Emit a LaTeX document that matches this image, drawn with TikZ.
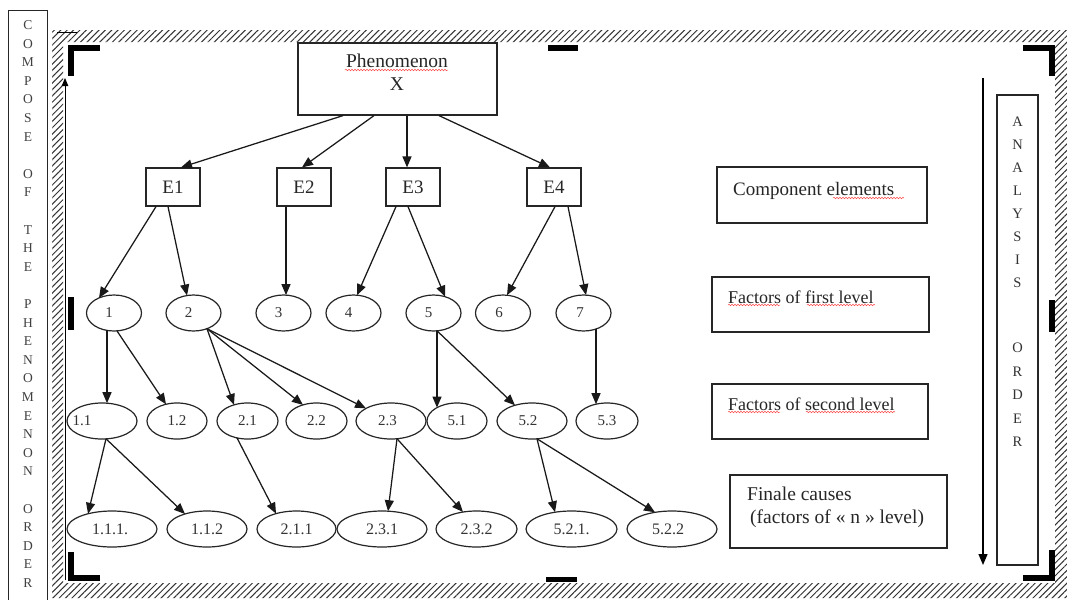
\documentclass[tikz,border=0pt]{standalone}
\usepackage{fontspec}
\setmainfont{Liberation Serif}
\usetikzlibrary{arrows.meta,patterns.meta,shapes.geometric,decorations.pathmorphing}
\newcommand\tofs[2]{\makebox[0pt]{#2\hspace*{#1}}}
\begin{document}
\begin{tikzpicture}[x=1pt,y=-1pt,
  ln/.style={draw=black!85, line width=1.2pt},
  ebox/.style={ln, rectangle, minimum width=54pt, minimum height=38pt, inner sep=0pt, font=\fontsize{19}{22}\selectfont, text=black!85},
  ell/.style={ln, ellipse, minimum height=36pt, inner sep=0pt, font=\fontsize{15}{18}\selectfont, text=black!80},
  ellc/.style={ell, font=\fontsize{16}{18}\selectfont},
  arr/.style={draw=black!90, line width=1.25pt, -{Triangle[length=11pt,width=9pt]}},
  lbox/.style={ln, rectangle, inner sep=0pt},
  lbl/.style={inner sep=0pt, anchor=west, text=black!85},
  vlet/.style={inner sep=0pt, font=\fontsize{13.5}{14}\selectfont, text=black!75},
  rlet/.style={inner sep=0pt, font=\fontsize{14.5}{15}\selectfont, text=black!80},
  cmark/.style={fill=black},
  squig/.style={draw=red!70, line width=0.5pt, decorate, decoration={snake, amplitude=0.8pt, segment length=3pt}}
]
\fill[white] (0,0) rectangle (1067,600);
\useasboundingbox (0,0) rectangle (1067,600);

% hatched frame
\fill[pattern={Lines[angle=45,distance=4.5pt,line width=1pt]}, pattern color=black!80, even odd rule]
  (52,30) rectangle (1067,598) (63,42) rectangle (1055,583);

% black corner and middle marks
\fill[cmark] (68,45) rectangle (100,51); \fill[cmark] (68,45) rectangle (74,76);
\fill[cmark] (1023,45) rectangle (1055,51); \fill[cmark] (1049,45) rectangle (1055,76);
\fill[cmark] (68,575) rectangle (100,581); \fill[cmark] (68,552) rectangle (74,581);
\fill[cmark] (1023,575) rectangle (1055,581); \fill[cmark] (1049,550) rectangle (1055,581);
\fill[cmark] (548,45) rectangle (578,51); \fill[cmark] (546,577) rectangle (577,582);
\fill[cmark] (68,297) rectangle (74,330); \fill[cmark] (1049,300) rectangle (1055,332);

% left side box and text
\draw[line width=1pt, draw=black!85] (8,600) -- (8,10) -- (47,10) -- (47,600);
\foreach \ch/\i in {C/0,O/1,M/2,P/3,O/4,S/5,E/6,O/8,F/9,T/11,H/12,E/13,P/15,H/16,E/17,N/18,O/19,M/20,E/21,N/22,O/23,N/24,O/26,R/27,D/28,E/29,R/30}
  \node[vlet] (lc\i) at (28,25+\i*18.6) {\ch};

% left small arrow and dash
\coordinate (la1) at (65,580); \coordinate (la2) at (65,78);
\draw[line width=0.9pt, -{Triangle[length=8pt,width=6.5pt]}] (la1) -- (la2);
\coordinate (td1) at (57,32); \coordinate (td2) at (77,32);
\draw[line width=1pt] (td1) -- (td2);

% right arrow and box
\coordinate (ra1) at (983,78); \coordinate (ra2) at (983,565);
\draw[line width=1.2pt, -{Triangle[length=11pt,width=9pt]}] (ra1) -- (ra2);
\node[lbox, minimum width=41pt, minimum height=470pt] (rb) at (1017.5,330) {};
\foreach \ch/\yy in {A/122,N/145,A/168,L/191,Y/214,S/237,I/260,S/283,O/348,R/371.5,D/395,E/418.5,R/442}
  \node[rlet] (rc\yy) at (1017.5,\yy) {\ch};

% phenomenon box
\node[lbox, minimum width=199pt, minimum height=72pt] (X) at (397.5,79) {};
\node[inner sep=0pt, align=center, font=\fontsize{19.5}{23}\selectfont, text=black!85] (Xt) at (397,72) {Phenomenon\\X};
\draw[squig] (345,70) -- (448,70);

% component elements
\node[ebox] (E1) at (173,187) {E1};
\node[ebox] (E2) at (304,187) {E2};
\node[ebox] (E3) at (413,187) {E3};
\node[ebox] (E4) at (554,187) {E4};

% first level
\node[ell, minimum width=55pt] (n1) at (114,313) {\tofs{10pt}{1}};
\node[ell, minimum width=55pt] (n2) at (193.5,313) {\tofs{10pt}{2}};
\node[ell, minimum width=55pt] (n3) at (283.5,313) {\tofs{10pt}{3}};
\node[ell, minimum width=55pt] (n4) at (353.5,313) {\tofs{10pt}{4}};
\node[ell, minimum width=55pt] (n5) at (433.5,313) {\tofs{10pt}{5}};
\node[ell, minimum width=55pt] (n6) at (503,313) {\tofs{8pt}{6}};
\node[ell, minimum width=55pt] (n7) at (583.5,313) {\tofs{7pt}{7}};

% second level
\node[ell, minimum width=70pt] (n11) at (102,421) {\tofs{40pt}{1.1}};
\node[ell, minimum width=60pt] (n12) at (177,421) {1.2};
\node[ell, minimum width=61pt] (n21) at (247.5,421) {2.1};
\node[ell, minimum width=61pt] (n22) at (316.5,421) {2.2};
\node[ell, minimum width=70pt] (n23) at (391,421) {\tofs{7pt}{2.3}};
\node[ell, minimum width=60pt] (n51) at (457,421) {5.1};
\node[ell, minimum width=70pt] (n52) at (532,421) {\tofs{8pt}{5.2}};
\node[ell, minimum width=62pt] (n53) at (607,421) {5.3};

% third level
\node[ellc, minimum width=90pt] (n111) at (112,529) {\tofs{4pt}{1.1.1.}};
\node[ellc, minimum width=80pt] (n112) at (207,529) {1.1.2};
\node[ellc, minimum width=79pt] (n211) at (296.5,529) {2.1.1};
\node[ellc, minimum width=90pt] (n231) at (382,529) {2.3.1};
\node[ellc, minimum width=81pt] (n232) at (476.5,529) {2.3.2};
\node[ellc, minimum width=91pt] (n521) at (571.5,529) {5.2.1.};
\node[ellc, minimum width=90pt] (n522) at (672,529) {\tofs{8pt}{5.2.2}};

% right label boxes
\node[lbox, minimum width=210pt, minimum height=56pt] (bx1) at (822,195) {};
\node[lbl, font=\fontsize{19}{22}\selectfont] (t1) at (733,191) {Component elements};
\draw[squig] (833,198) -- (904,198);
\node[lbox, minimum width=217pt, minimum height=55pt] (bx2) at (820.5,304.5) {};
\node[lbl, font=\fontsize{18}{21}\selectfont] (t2) at (728,297) {Factors of first level};
\draw[squig] (728,305) -- (780,305); \draw[squig] (807,305) -- (875,305);
\node[lbox, minimum width=216pt, minimum height=55pt] (bx3) at (820,411.5) {};
\node[lbl, font=\fontsize{18}{21}\selectfont] (t3) at (728,404) {Factors of second level};
\draw[squig] (728,412) -- (780,412); \draw[squig] (806,412) -- (895,412);
\node[lbox, minimum width=217pt, minimum height=73pt] (bx4) at (838.5,511.5) {};
\node[lbl, font=\fontsize{19.5}{22}\selectfont] (t4a) at (747,494) {Finale causes};
\node[lbl, font=\fontsize{19.5}{22}\selectfont] (t4b) at (750,519) {(factors of « n » level)};

% connectors: phenomenon -> elements
\draw[arr] ([xshift=-54.5pt]X.south) -- ([xshift=8pt]E1.north);
\draw[arr] ([xshift=-23.5pt]X.south) -- ([xshift=-2pt]E2.north);
\draw[arr] ([xshift=9.5pt]X.south) -- ([xshift=-6pt]E3.north);
\draw[arr] ([xshift=41.5pt]X.south) -- ([xshift=-4pt]E4.north);

% elements -> first level
\draw[arr] ([xshift=-17pt]E1.south) -- ([shift={(-15,-15)}]n1.center);
\draw[arr] ([xshift=-5pt]E1.south) -- ([shift={(-6.5,-17.5)}]n2.center);
\draw[arr] ([xshift=-18pt]E2.south) -- ([shift={(2.5,-17.9)}]n3.center);
\draw[arr] ([xshift=-17pt]E3.south) -- ([shift={(3.5,-17.8)}]n4.center);
\draw[arr] ([xshift=-5pt]E3.south) -- ([shift={(11.5,-16.3)}]n5.center);
\draw[arr] ([xshift=1pt]E4.south) -- ([shift={(4,-17.8)}]n6.center);
\draw[arr] ([xshift=14pt]E4.south) -- ([shift={(2.5,-17.9)}]n7.center);

% first -> second level
\draw[arr] ([shift={(-7,17.4)}]n1.center) -- ([shift={(5,-17.8)}]n11.center);
\draw[arr] ([shift={(3,17.9)}]n1.center) -- ([shift={(-11,-16.7)}]n12.center);
\draw[arr] ([shift={(13.5,15.7)}]n2.center) -- ([shift={(-13.5,-16.1)}]n21.center);
\draw[arr] ([shift={(13.5,15.7)}]n2.center) -- ([shift={(-13.5,-16.1)}]n22.center);
\draw[arr] ([shift={(13.5,15.7)}]n2.center) -- ([shift={(-25,-12.6)}]n23.center);
\draw[arr] ([shift={(3.5,17.8)}]n5.center) -- ([shift={(-20,-13.4)}]n51.center);
\draw[arr] ([shift={(3.5,17.8)}]n5.center) -- ([shift={(-17,-15.7)}]n52.center);
\draw[arr] ([shift={(12.5,16)}]n7.center) -- ([shift={(-11,-16.8)}]n53.center);

% second -> third level
\draw[arr] ([shift={(4,17.8)}]n11.center) -- ([shift={(-24,-15.2)}]n111.center);
\draw[arr] ([shift={(4,17.8)}]n11.center) -- ([shift={(-22,-15)}]n112.center);
\draw[arr] ([shift={(-10.5,16.9)}]n21.center) -- ([shift={(-20.5,-15.4)}]n211.center);
\draw[arr] ([shift={(6,17.7)}]n23.center) -- ([shift={(6,-17.8)}]n231.center);
\draw[arr] ([shift={(6,17.7)}]n23.center) -- ([shift={(-13.5,-17)}]n232.center);
\draw[arr] ([shift={(5,17.8)}]n52.center) -- ([shift={(-16.5,-16.8)}]n521.center);
\draw[arr] ([shift={(5,17.8)}]n52.center) -- ([shift={(-17,-16.7)}]n522.center);
\end{tikzpicture}
\end{document}
